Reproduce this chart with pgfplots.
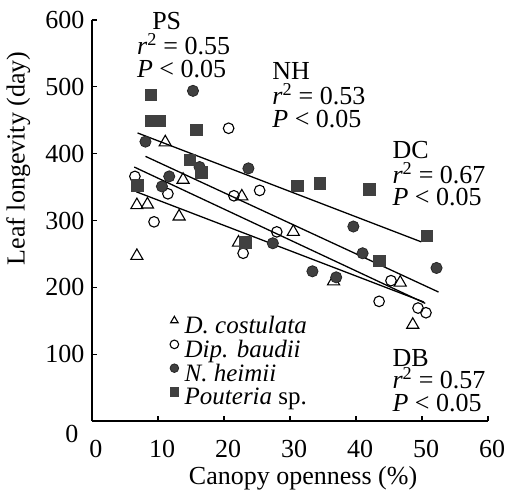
\documentclass[border=0pt]{standalone}
\usepackage{fontspec}
\setmainfont{Liberation Serif}
\usepackage{pgfplots}
\pgfplotsset{compat=1.18}

\begin{document}
\begin{tikzpicture}[font=\fontsize{26}{30}\selectfont,
  ann/.style={anchor=base west, inner sep=0pt}]
\begin{axis}[
  scale only axis, width=396pt, height=401pt,
  xmin=0, xmax=60, ymin=0, ymax=600,
  axis x line*=bottom, axis y line*=left,
  axis line style={line width=1.3pt},
  tick align=inside, major tick length=5pt,
  tick style={line width=1.1pt, black},
  xtick={0,10,...,60}, ytick={0,100,...,600},
  yticklabels={,100,200,300,400,500,600},
  /pgf/number format/assume math mode=true,
  xticklabel style={yshift=-16pt, xshift=4pt},
  yticklabel style={xshift=-4pt},
  xlabel={Canopy openness (\%)},
  ylabel={Leaf longevity (day)},
  xlabel style={at={(axis description cs:0.533,-0.143)}, anchor=center},
  ylabel style={at={(axis description cs:-0.186,0.655)}, anchor=center},
  clip=false,
  legend cell align=left,
  legend style={draw=none, fill=none, at={(axis cs:11.8,157)}, anchor=north west,
    inner sep=0pt, row sep=0.5pt, font=\fontsize{25}{25}\selectfont,
    nodes={inner sep=0pt, text height=17pt, text depth=6pt},
    /tikz/every odd column/.append style={column sep=6pt}},
  legend image code/.code={\draw[#1, mark size=4.3pt] plot coordinates {(0pt,7.5pt)};},
]
% regression lines
\addplot[black, line width=1.3pt, forget plot] coordinates {(6.9,431) (49.9,268)};
\addplot[black, line width=1.3pt, forget plot] coordinates {(8.1,396) (52.5,193)};
\addplot[black, line width=1.3pt, forget plot] coordinates {(6.4,380) (50.5,176)};
\addplot[black, line width=1.3pt, forget plot] coordinates {(6.7,343) (50.3,178)};

% D. costulata
\addplot[only marks, mark=triangle, mark size=7pt, mark options={black, line width=1.1pt}] coordinates {
  (11.1,417) (6.8,323) (8.4,324) (13.8,361) (13.2,306) (6.8,247)
  (22.7,336) (22.2,267) (30.5,283) (36.6,209) (46.7,207) (48.6,144)
};
\addlegendentry{\textit{D. costulata}}
% Dip. baudii
\addplot[only marks, mark=o, mark size=5.3pt, mark options={black, line width=1.1pt}] coordinates {
  (6.5,366) (11.5,340) (9.4,298) (20.7,438) (21.5,337) (25.4,345)
  (22.9,251) (28.0,283) (45.3,210) (43.5,179) (49.4,169) (50.6,162)
};
\addlegendentry{\textit{Dip. baudii}}
% N. heimii
\addplot[only marks, mark=*, mark size=5.6pt, mark options={draw=black!85, fill=black!75, line width=0.8pt}] coordinates {
  (15.3,494) (8.1,418) (16.3,380) (11.7,366) (10.6,351) (23.7,378)
  (27.4,266) (33.4,224) (39.6,291) (41.0,251) (52.2,229) (37.0,215)
};
\addlegendentry{\textit{N. heimii}}
% Pouteria sp.
\addplot[only marks, mark=square*, mark size=5.8pt, mark options={draw=black!75, fill=black!75, line width=0.6pt}] coordinates {
  (8.9,488) (9.0,449) (10.2,449) (15.8,436) (14.8,391) (16.6,372) (6.9,353)
  (23.2,267) (31.1,352) (34.5,356) (42.0,347) (50.7,277) (43.5,240)
};
\addlegendentry{\textit{Pouteria} sp.}

\coordinate (o) at (axis cs:0,0);
\node at (axis cs:0,0) [xshift=-20pt, yshift=-13pt] {0};

\node[ann] at (axis cs:9.1,585.3) {PS};
\node[ann] at (axis cs:6.8,547.9) {\textit{r}\textsuperscript{2} = 0.55};
\node[ann] at (axis cs:6.8,513.5) {\textit{P} < 0.05};

\node[ann] at (axis cs:27.3,510.5) {NH};
\node[ann] at (axis cs:27.3,473) {\textit{r}\textsuperscript{2} = 0.53};
\node[ann] at (axis cs:27.3,438.6) {\textit{P} < 0.05};

\node[ann] at (axis cs:45.5,392.2) {DC};
\node[ann] at (axis cs:45.5,354.8) {\textit{r}\textsuperscript{2} = 0.67};
\node[ann] at (axis cs:45.5,321.9) {\textit{P} < 0.05};

\node[ann] at (axis cs:45.5,82.3) {DB};
\node[ann] at (axis cs:45.5,47.9) {\textit{r}\textsuperscript{2} = 0.57};
\node[ann] at (axis cs:45.5,13.5) {\textit{P} < 0.05};
\end{axis}
\pgfresetboundingbox
\path ([shift={(-92pt,-72pt)}]o) rectangle ++(510pt,493pt);
\end{tikzpicture}
\end{document}
